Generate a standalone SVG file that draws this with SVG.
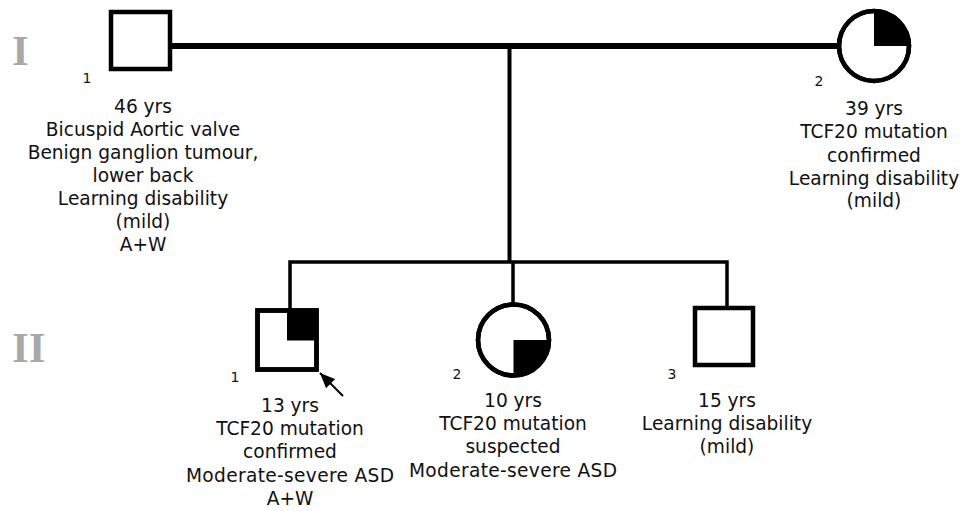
<svg xmlns="http://www.w3.org/2000/svg" width="963" height="511" viewBox="0 0 963 511">
<style>
.sym{fill:#fff;stroke:#000;stroke-width:4.5}
.aff{fill:#000;stroke:none}
.lbl{font-family:"DejaVu Sans",Verdana,sans-serif;font-size:18.6px;fill:#111;text-anchor:middle}
.num{font-family:"DejaVu Sans",Verdana,sans-serif;font-size:14px;fill:#111;text-anchor:middle}
.gen{font-family:"Liberation Serif","Times New Roman",serif;font-size:43px;font-weight:bold;fill:#a8a8a8}
.ln{fill:none;stroke:#000}
</style>
<defs>
<marker id="ah" viewBox="0 0 15 13" refX="15" refY="6.5" markerWidth="15" markerHeight="13" markerUnits="userSpaceOnUse" orient="auto">
<path d="M0,0 L15,6.5 L0,13 Z" fill="#000"/>
</marker>
</defs>
<text class="gen" x="12" y="65">I</text>
<text class="gen" x="12" y="362">II</text>
<g id="connectors">
<line class="ln" x1="170" y1="46" x2="840" y2="46" stroke-width="6"/>
<line class="ln" x1="509.5" y1="46" x2="509.5" y2="262" stroke-width="4"/>
<path class="ln" d="M290,310 V262 H727 V308" stroke-width="3.5"/>
<line class="ln" x1="513" y1="262" x2="513" y2="304" stroke-width="3.5"/>
<line class="ln" x1="343" y1="396" x2="320" y2="373" stroke-width="2" marker-end="url(#ah)"/>
</g>
<g id="I-1">
<rect class="sym" x="111" y="12" width="59" height="57"/>
<text class="num" x="87" y="83">1</text>
<text class="lbl" x="143"><tspan x="143" y="113">46 yrs</tspan><tspan x="143" y="136">Bicuspid Aortic valve</tspan><tspan x="143" y="159">Benign ganglion tumour,</tspan><tspan x="143" y="182">lower back</tspan><tspan x="143" y="205">Learning disability</tspan><tspan x="143" y="228">(mild)</tspan><tspan x="143" y="251">A+W</tspan></text>
</g>
<g id="I-2">
<circle class="sym" cx="874" cy="46" r="35"/>
<path class="aff" d="M874,46 L874,11 A35,35 0 0 1 909,46 Z"/>
<circle cx="874" cy="46" r="35" fill="none" stroke="#000" stroke-width="4.5"/>
<text class="num" x="819" y="86">2</text>
<text class="lbl" x="874"><tspan x="874" y="115">39 yrs</tspan><tspan x="874" y="138">TCF20 mutation</tspan><tspan x="874" y="162">confirmed</tspan><tspan x="874" y="185">Learning disability</tspan><tspan x="874" y="207">(mild)</tspan></text>
</g>
<g id="II-1">
<rect class="sym" x="257.5" y="310.5" width="59" height="59"/>
<rect class="aff" x="287" y="310.5" width="29.5" height="30"/>
<rect x="257.5" y="310.5" width="59" height="59" fill="none" stroke="#000" stroke-width="4.5"/>
<text class="num" x="235" y="382">1</text>
<text class="lbl" x="290"><tspan x="290" y="412">13 yrs</tspan><tspan x="290" y="435">TCF20 mutation</tspan><tspan x="290" y="458">confirmed</tspan><tspan x="290" y="482" textLength="208" lengthAdjust="spacing">Moderate-severe ASD</tspan><tspan x="290" y="505">A+W</tspan></text>
</g>
<g id="II-2">
<circle class="sym" cx="513.5" cy="340" r="35.5"/>
<path class="aff" d="M513.5,340 L549,340 A35.5,35.5 0 0 1 513.5,375.5 Z"/>
<circle cx="513.5" cy="340" r="35.5" fill="none" stroke="#000" stroke-width="4.5"/>
<text class="num" x="457" y="379">2</text>
<text class="lbl" x="513"><tspan x="513" y="407">10 yrs</tspan><tspan x="513" y="430">TCF20 mutation</tspan><tspan x="513" y="453">suspected</tspan><tspan x="513" y="477" textLength="208" lengthAdjust="spacing">Moderate-severe ASD</tspan></text>
</g>
<g id="II-3">
<rect class="sym" x="695" y="308" width="58" height="57"/>
<text class="num" x="672" y="379">3</text>
<text class="lbl" x="727"><tspan x="727" y="407">15 yrs</tspan><tspan x="727" y="430">Learning disability</tspan><tspan x="727" y="453">(mild)</tspan></text>
</g>
</svg>
